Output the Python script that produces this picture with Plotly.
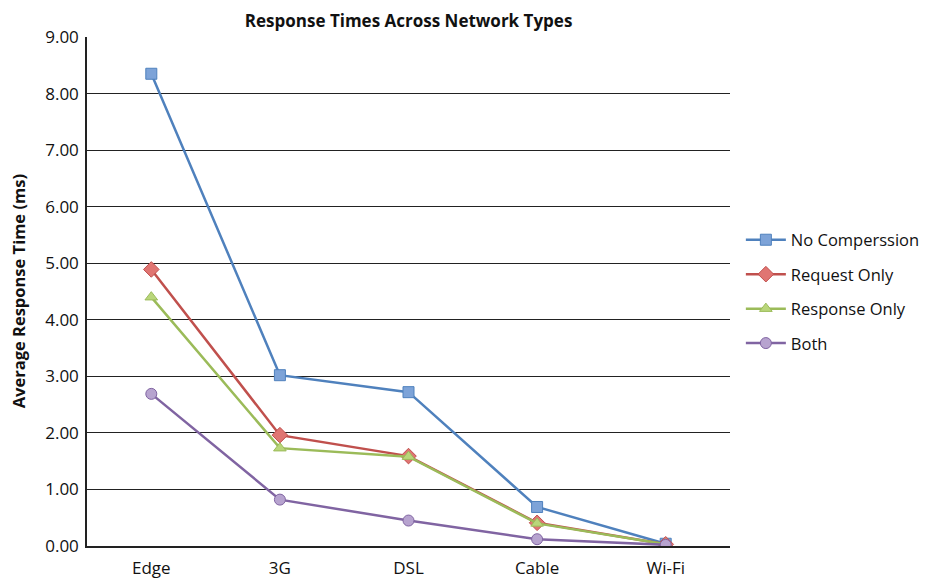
import plotly.graph_objects as go

categories = ["Edge", "3G", "DSL", "Cable", "Wi-Fi"]
no_compression = [8.35, 3.02, 2.72, 0.69, 0.04]
request_only = [4.89, 1.96, 1.59, 0.41, 0.03]
response_only = [4.40, 1.73, 1.58, 0.40, 0.03]
both = [2.69, 0.82, 0.45, 0.12, 0.02]
series_names = ["No Comperssion", "Request Only", "Response Only", "Both"]
y_ticks = [0, 1, 2, 3, 4, 5, 6, 7, 8, 9]

styles = [
    ("#4F81BD", "#7DA3D8", "square"),
    ("#C0504D", "#E07572", "diamond"),
    ("#9BBB59", "#B9D67A", "triangle-up"),
    ("#8064A2", "#B7A3CF", "circle"),
]

fig = go.Figure()
for name, vals, (lc, fc, sym) in zip(series_names, [no_compression, request_only, response_only, both], styles):
    fig.add_trace(go.Scatter(
        x=categories, y=vals, name=name, mode="lines+markers", legendgroup=name,
        line=dict(color=lc, width=2.5),
        marker=dict(symbol=sym, size=11 if sym != "diamond" else 12, color=fc, line=dict(color=lc, width=1)),
    ))

font = "Open Sans, Lato, sans-serif"
W, H = 923, 570
fig.update_layout(
    width=W, height=H,
    margin=dict(l=79, r=201, t=29, b=32),
    paper_bgcolor="white", plot_bgcolor="white",
    font=dict(family=font, size=17, color="#111111"),
    title=dict(text="<b>Response Times Across Network Types</b>", x=0.434, xanchor="center",
               xref="container", yref="container",
               y=0.977, yanchor="middle", font=dict(size=17, family=font)),
    showlegend=True,
    legend=dict(x=0.794, y=0.5, xref="container", yref="paper", xanchor="left", yanchor="middle",
                font=dict(size=16.5), tracegroupgap=10, itemwidth=40, bgcolor="rgba(0,0,0,0)"),
    xaxis=dict(range=[-0.5, 4.5], showgrid=False, showline=True, linecolor="#222222", linewidth=1.5,
               ticks="", tickfont=dict(size=17), automargin=False, ticklabelstandoff=6),
    yaxis=dict(range=[0, 9], tickvals=y_ticks, tickformat=".2f", showgrid=True, gridcolor="#222222",
               gridwidth=1, showline=True, linecolor="#222222", linewidth=1.5, zeroline=False,
               ticks="", tickfont=dict(size=17), automargin=False, ticklabelstandoff=3),
    annotations=[dict(text="<b>Average Response Time (ms)</b>", xref="paper", yref="paper",
                      x=-0.106, y=0.5, xanchor="center", yanchor="middle", textangle=-90,
                      showarrow=False, font=dict(size=16.5, family=font))],
)

fig.write_html("out.html")
